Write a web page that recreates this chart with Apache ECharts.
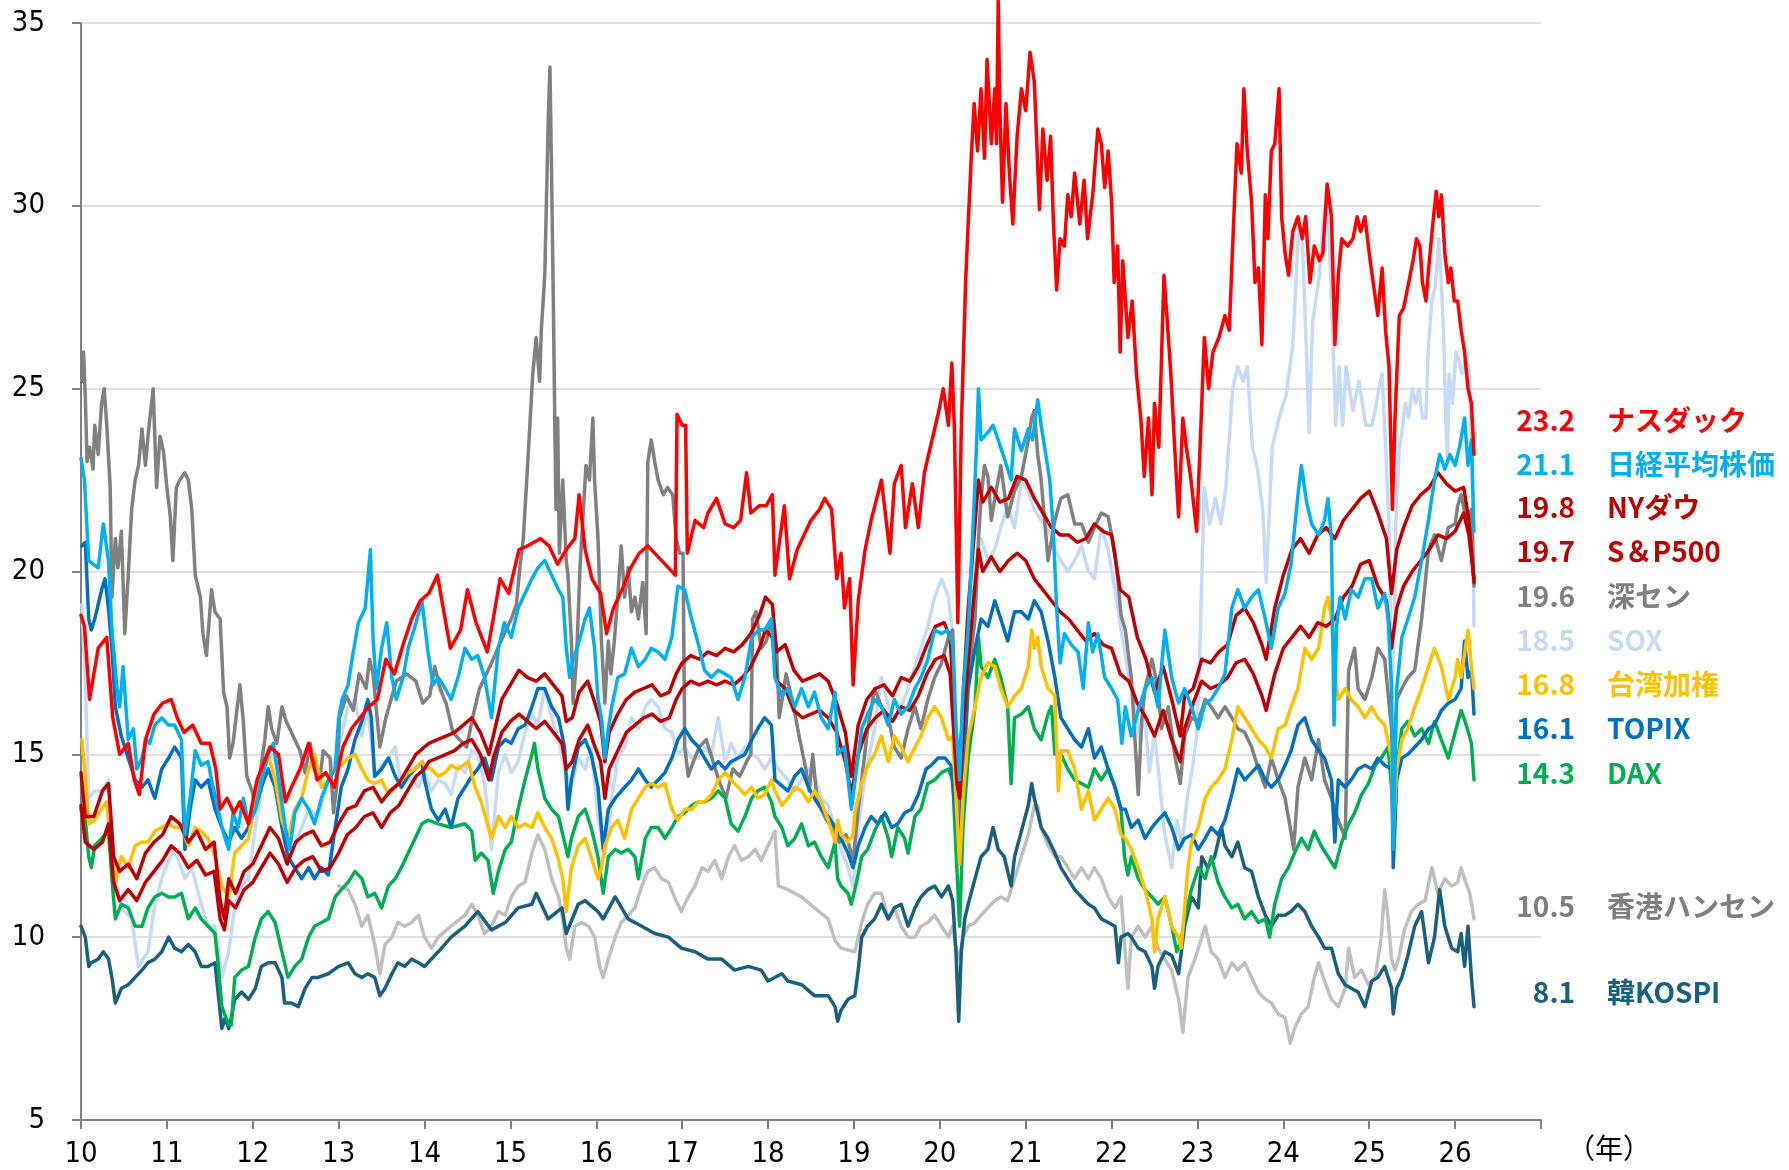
<!DOCTYPE html>
<html lang="ja">
<head>
<meta charset="UTF-8">
<title>予想PER推移</title>
<script src="https://cdn.jsdelivr.net/npm/echarts@6.0.0/dist/echarts.min.js"></script>
<style>
  html, body { margin: 0; padding: 0; background: #fff; }
  #chart { width: 1789px; height: 1170px; }
</style>
</head>
<body>
<div id="chart"></div>
<script>
// x = 年（2000年からの年数）, y = 倍率
var nasdaq = [[10.0,18.8],[10.04,18.5],[10.1,16.5],[10.2,17.9],[10.3,18.2],[10.37,16.0],[10.45,15.0],[10.55,15.3],[10.62,14.3],[10.68,13.9],[10.75,15.4],[10.85,16.1],[10.95,16.4],[11.05,16.5],[11.12,16.0],[11.2,15.6],[11.3,15.8],[11.4,15.3],[11.5,15.3],[11.57,14.6],[11.62,13.5],[11.7,13.8],[11.78,13.4],[11.85,13.7],[11.95,13.1],[12.05,14.3],[12.2,15.2],[12.3,15.0],[12.38,13.7],[12.45,14.1],[12.55,14.6],[12.65,15.3],[12.75,14.3],[12.85,14.5],[12.95,14.1],[13.05,15.2],[13.15,15.7],[13.25,16.0],[13.35,16.3],[13.45,16.5],[13.55,17.6],[13.65,17.2],[13.75,18.0],[13.85,18.7],[13.95,19.2],[14.05,19.4],[14.15,19.9],[14.3,17.9],[14.42,18.4],[14.5,19.5],[14.6,18.6],[14.73,17.8],[14.8,18.7],[14.88,19.8],[14.98,19.4],[15.1,20.6],[15.2,20.7],[15.35,20.9],[15.45,20.7],[15.55,20.2],[15.65,20.6],[15.75,20.9],[15.8,22.1],[15.87,20.6],[15.95,19.8],[16.05,19.4],[16.12,18.3],[16.2,19.0],[16.3,19.5],[16.4,20.1],[16.5,20.5],[16.6,20.7],[16.92,19.9],[16.94,24.3],[17.0,24.0],[17.04,24.0],[17.06,20.5],[17.15,21.4],[17.25,21.2],[17.3,21.6],[17.4,22.0],[17.5,21.3],[17.6,21.2],[17.68,21.4],[17.75,22.7],[17.8,21.6],[17.9,21.8],[17.98,21.8],[18.05,22.1],[18.08,19.9],[18.19,21.8],[18.25,19.8],[18.34,20.6],[18.4,20.9],[18.5,21.4],[18.6,21.7],[18.66,22.0],[18.74,21.7],[18.8,19.8],[18.85,20.5],[18.89,19.0],[18.95,19.8],[18.99,16.9],[19.05,19.2],[19.13,20.6],[19.2,21.4],[19.32,22.5],[19.42,20.5],[19.47,22.4],[19.55,22.9],[19.6,21.2],[19.68,22.4],[19.75,21.2],[19.82,22.7],[19.9,23.5],[19.98,24.3],[20.04,25.0],[20.1,24.0],[20.14,25.7],[20.17,23.9],[20.21,18.6],[20.25,23.9],[20.3,27.9],[20.33,29.5],[20.37,31.5],[20.4,32.8],[20.44,31.5],[20.48,33.2],[20.52,31.3],[20.55,34.0],[20.6,31.7],[20.64,33.2],[20.66,31.7],[20.68,35.6],[20.7,32.6],[20.73,30.1],[20.77,32.8],[20.81,30.9],[20.85,29.5],[20.9,31.9],[20.95,33.2],[21.0,32.6],[21.05,34.2],[21.1,33.4],[21.16,29.9],[21.2,32.1],[21.25,30.7],[21.29,31.9],[21.32,29.7],[21.36,27.7],[21.4,29.1],[21.45,28.9],[21.49,30.3],[21.53,29.7],[21.57,30.9],[21.63,29.5],[21.68,30.7],[21.72,29.1],[21.78,30.3],[21.84,32.1],[21.88,31.7],[21.92,30.5],[21.96,31.5],[22.0,30.1],[22.03,27.9],[22.07,28.9],[22.1,26.0],[22.13,28.5],[22.19,26.4],[22.24,27.4],[22.29,25.4],[22.34,24.2],[22.38,22.6],[22.43,24.2],[22.47,22.1],[22.5,24.6],[22.55,23.4],[22.61,28.1],[22.65,26.8],[22.69,25.4],[22.73,23.6],[22.78,21.5],[22.83,24.2],[22.87,23.4],[22.92,22.6],[22.99,21.1],[23.03,23.4],[23.08,26.4],[23.13,25.0],[23.18,26.0],[23.25,26.4],[23.32,27.0],[23.37,26.6],[23.42,29.5],[23.46,31.7],[23.51,30.9],[23.54,33.2],[23.58,31.5],[23.63,30.1],[23.67,27.9],[23.71,28.3],[23.75,26.2],[23.79,30.3],[23.82,29.1],[23.86,31.5],[23.9,31.7],[23.95,33.2],[23.98,29.7],[24.02,28.7],[24.06,28.1],[24.11,29.3],[24.17,29.7],[24.22,29.1],[24.26,29.7],[24.31,27.9],[24.36,28.9],[24.42,28.5],[24.46,28.7],[24.51,30.6],[24.56,29.7],[24.6,26.2],[24.64,28.1],[24.68,29.1],[24.75,28.9],[24.81,29.1],[24.86,29.7],[24.9,29.3],[24.95,29.7],[25.0,28.7],[25.04,28.0],[25.1,27.0],[25.15,28.3],[25.19,26.6],[25.23,25.6],[25.27,21.7],[25.3,24.2],[25.35,27.0],[25.4,27.2],[25.46,27.9],[25.51,28.5],[25.55,29.1],[25.59,28.9],[25.62,27.9],[25.66,27.4],[25.7,28.5],[25.74,29.5],[25.78,30.4],[25.81,29.7],[25.84,30.3],[25.88,28.7],[25.92,27.9],[25.95,28.3],[25.99,27.4],[26.03,27.4],[26.07,26.6],[26.11,26.0],[26.15,25.0],[26.19,24.6],[26.22,23.2]];

var nikkei = [[10.0,23.1],[10.04,22.5],[10.09,20.3],[10.14,20.2],[10.2,20.1],[10.26,21.3],[10.32,20.3],[10.36,18.4],[10.42,16.8],[10.45,16.3],[10.49,17.4],[10.55,15.4],[10.61,15.7],[10.65,14.6],[10.71,14.9],[10.76,15.4],[10.8,15.3],[10.86,15.8],[10.94,16.0],[11.02,15.8],[11.09,15.8],[11.17,15.4],[11.21,12.8],[11.27,13.8],[11.33,15.1],[11.4,14.7],[11.48,14.8],[11.52,14.3],[11.58,13.7],[11.64,13.0],[11.72,12.4],[11.77,13.4],[11.83,13.0],[11.89,13.8],[11.95,13.1],[12.03,13.5],[12.1,14.3],[12.18,15.0],[12.24,15.3],[12.3,14.3],[12.38,13.0],[12.43,12.4],[12.49,13.4],[12.57,13.8],[12.65,13.5],[12.72,13.1],[12.8,13.8],[12.88,14.3],[12.96,14.6],[13.0,16.0],[13.04,16.5],[13.11,16.9],[13.17,17.8],[13.23,18.6],[13.31,19.0],[13.37,20.6],[13.4,18.2],[13.44,16.8],[13.5,17.9],[13.56,18.6],[13.62,17.1],[13.67,16.5],[13.75,17.1],[13.81,17.9],[13.89,18.5],[13.97,19.2],[14.04,17.8],[14.1,16.9],[14.16,17.1],[14.24,16.8],[14.31,16.5],[14.39,17.1],[14.47,17.9],[14.55,17.6],[14.62,17.7],[14.7,17.1],[14.78,16.0],[14.86,17.9],[14.93,18.6],[15.01,18.2],[15.09,19.0],[15.17,19.4],[15.25,19.8],[15.32,20.1],[15.4,20.3],[15.48,19.9],[15.56,19.5],[15.61,19.3],[15.65,17.9],[15.69,17.1],[15.73,17.6],[15.79,18.0],[15.87,18.7],[15.92,19.0],[15.98,17.9],[16.02,16.5],[16.06,16.0],[16.1,14.9],[16.14,15.7],[16.18,16.3],[16.25,17.1],[16.33,17.2],[16.41,17.9],[16.49,17.4],[16.57,17.6],[16.64,17.9],[16.72,17.8],[16.8,17.6],[16.88,18.2],[16.95,19.6],[17.03,19.5],[17.11,18.7],[17.19,18.0],[17.26,17.3],[17.34,17.1],[17.42,17.3],[17.5,17.2],[17.57,17.1],[17.65,16.5],[17.73,17.1],[17.81,18.2],[17.89,18.4],[17.96,18.4],[18.04,18.7],[18.08,17.1],[18.16,16.6],[18.23,16.8],[18.31,16.3],[18.39,16.8],[18.47,16.3],[18.54,16.7],[18.62,16.0],[18.7,15.7],[18.78,16.7],[18.81,15.0],[18.89,15.2],[18.97,13.5],[19.03,14.6],[19.09,15.7],[19.16,16.1],[19.24,16.5],[19.32,16.3],[19.4,15.8],[19.47,16.5],[19.55,16.1],[19.63,16.3],[19.71,16.8],[19.78,17.1],[19.86,17.6],[19.94,18.4],[20.02,18.3],[20.09,18.4],[20.15,18.0],[20.19,15.7],[20.23,14.3],[20.27,16.7],[20.33,18.4],[20.39,21.4],[20.43,23.6],[20.45,25.0],[20.48,23.6],[20.56,23.8],[20.62,24.0],[20.68,23.6],[20.75,23.1],[20.83,22.5],[20.87,23.9],[20.95,23.3],[21.03,23.9],[21.08,23.6],[21.14,24.7],[21.18,24.0],[21.24,23.1],[21.28,22.5],[21.32,21.2],[21.36,19.0],[21.4,17.5],[21.45,18.3],[21.53,18.0],[21.61,17.8],[21.67,16.8],[21.73,18.6],[21.78,17.8],[21.84,18.3],[21.92,17.1],[22.0,16.8],[22.07,16.5],[22.12,15.3],[22.16,16.3],[22.23,15.5],[22.31,16.2],[22.39,16.8],[22.47,17.1],[22.54,16.3],[22.62,18.4],[22.7,17.1],[22.78,16.4],[22.85,16.8],[22.93,16.3],[23.01,15.7],[23.09,16.4],[23.16,16.5],[23.24,16.8],[23.32,17.2],[23.4,19.0],[23.47,19.5],[23.55,19.0],[23.63,19.3],[23.71,19.5],[23.79,18.7],[23.86,17.9],[23.94,19.0],[24.02,19.4],[24.09,20.2],[24.17,22.1],[24.21,22.9],[24.27,21.9],[24.33,21.3],[24.41,21.0],[24.48,21.4],[24.52,22.0],[24.56,20.9],[24.59,15.8],[24.62,18.5],[24.66,19.3],[24.72,18.7],[24.79,19.5],[24.87,19.3],[24.95,19.8],[25.03,19.8],[25.1,19.0],[25.18,19.4],[25.22,18.7],[25.26,16.8],[25.28,12.4],[25.32,16.8],[25.38,18.2],[25.45,18.7],[25.53,19.3],[25.61,20.3],[25.69,21.4],[25.76,22.5],[25.82,23.2],[25.88,22.8],[25.94,23.2],[26.0,22.9],[26.06,23.5],[26.11,24.2],[26.15,22.9],[26.19,23.6],[26.22,21.1]];

var sp500 = [[10.0,14.5],[10.05,13.3],[10.15,13.3],[10.25,14.0],[10.32,14.2],[10.38,12.2],[10.45,11.8],[10.55,12.0],[10.65,11.6],[10.75,12.3],[10.85,12.6],[10.95,12.8],[11.05,13.3],[11.15,13.1],[11.25,12.6],[11.35,12.9],[11.45,12.4],[11.55,12.6],[11.62,11.0],[11.67,10.5],[11.72,11.6],[11.8,11.2],[11.9,11.8],[12.0,12.0],[12.1,12.5],[12.2,13.0],[12.3,12.7],[12.4,12.0],[12.5,12.6],[12.6,12.8],[12.7,12.9],[12.8,12.5],[12.9,12.6],[13.0,13.1],[13.1,13.5],[13.2,13.6],[13.3,14.0],[13.4,14.1],[13.5,13.7],[13.6,14.0],[13.7,14.2],[13.8,14.6],[13.9,15.0],[14.0,15.2],[14.05,15.3],[14.15,15.4],[14.25,15.5],[14.35,15.6],[14.45,15.8],[14.55,16.0],[14.65,15.6],[14.75,15.0],[14.8,15.5],[14.9,16.5],[15.0,16.9],[15.1,17.3],[15.2,17.1],[15.3,17.0],[15.4,17.2],[15.5,16.9],[15.6,16.6],[15.65,15.9],[15.72,16.0],[15.8,16.7],[15.9,17.0],[15.97,16.5],[16.05,15.9],[16.1,14.8],[16.15,15.6],[16.25,16.1],[16.35,16.5],[16.45,16.7],[16.55,16.8],[16.65,16.9],[16.75,16.6],[16.85,16.7],[16.93,17.2],[17.0,17.5],[17.1,17.7],[17.2,17.6],[17.3,17.8],[17.4,17.7],[17.5,17.9],[17.6,17.8],[17.7,18.0],[17.8,18.3],[17.9,18.8],[17.97,19.3],[18.05,19.1],[18.1,17.8],[18.2,18.0],[18.3,17.3],[18.4,17.0],[18.5,17.1],[18.6,17.2],[18.7,17.0],[18.8,16.4],[18.9,15.6],[18.97,14.4],[19.05,15.8],[19.15,16.5],[19.25,16.8],[19.35,16.9],[19.45,16.6],[19.55,17.1],[19.65,17.0],[19.75,17.4],[19.85,18.0],[19.95,18.5],[20.05,18.6],[20.12,18.2],[20.2,15.0],[20.23,14.4],[20.27,16.5],[20.33,19.0],[20.4,21.0],[20.45,22.5],[20.5,21.9],[20.6,22.3],[20.7,21.9],[20.8,22.0],[20.9,22.6],[21.0,22.5],[21.1,22.0],[21.2,21.6],[21.3,21.2],[21.4,21.0],[21.5,21.0],[21.6,20.8],[21.7,20.9],[21.8,21.3],[21.9,21.1],[22.0,21.0],[22.1,19.5],[22.2,19.3],[22.3,18.2],[22.4,17.6],[22.5,16.7],[22.6,17.4],[22.7,16.5],[22.8,15.5],[22.85,16.6],[22.95,16.8],[23.05,17.6],[23.15,17.5],[23.25,17.8],[23.35,18.0],[23.45,18.8],[23.55,19.0],[23.65,18.6],[23.75,18.0],[23.8,17.6],[23.9,19.0],[24.0,19.9],[24.1,20.6],[24.2,20.9],[24.3,20.5],[24.4,21.0],[24.5,21.2],[24.6,20.9],[24.7,21.4],[24.8,21.7],[24.9,22.0],[25.0,22.2],[25.1,21.6],[25.2,20.9],[25.26,19.4],[25.32,20.6],[25.4,21.2],[25.5,21.8],[25.6,22.1],[25.7,22.3],[25.8,22.7],[25.9,22.4],[26.0,22.2],[26.1,22.3],[26.16,21.4],[26.22,19.7]];

var dow = [[10.0,13.6],[10.05,12.6],[10.15,12.4],[10.25,12.6],[10.32,13.1],[10.38,11.5],[10.45,11.0],[10.55,11.3],[10.65,11.0],[10.75,11.5],[10.85,11.8],[10.95,12.1],[11.05,12.5],[11.15,12.3],[11.25,11.9],[11.35,12.1],[11.45,11.7],[11.55,11.8],[11.62,10.5],[11.67,10.2],[11.72,11.0],[11.8,10.8],[11.9,11.3],[12.0,11.5],[12.1,11.9],[12.2,12.3],[12.3,12.0],[12.4,11.5],[12.5,11.9],[12.6,12.1],[12.7,12.2],[12.8,11.8],[12.9,11.9],[13.0,12.3],[13.1,12.8],[13.2,13.0],[13.3,13.3],[13.4,13.4],[13.5,13.0],[13.6,13.4],[13.7,13.6],[13.8,14.0],[13.9,14.4],[14.0,14.6],[14.05,14.8],[14.15,14.9],[14.25,15.0],[14.35,15.1],[14.45,15.3],[14.55,15.4],[14.65,15.0],[14.75,14.3],[14.8,14.9],[14.9,15.6],[15.0,15.9],[15.1,16.1],[15.2,15.9],[15.3,15.7],[15.4,15.9],[15.5,15.6],[15.6,15.3],[15.65,14.6],[15.72,14.8],[15.8,15.4],[15.9,15.8],[15.97,15.3],[16.05,14.8],[16.1,13.8],[16.15,14.6],[16.25,15.1],[16.35,15.6],[16.45,15.8],[16.55,16.0],[16.65,16.1],[16.75,15.9],[16.85,16.0],[16.93,16.5],[17.0,16.8],[17.1,17.0],[17.2,16.9],[17.3,17.0],[17.4,16.9],[17.5,17.0],[17.6,16.9],[17.7,17.1],[17.8,17.4],[17.9,17.9],[17.97,18.4],[18.05,18.2],[18.1,17.0],[18.2,16.8],[18.3,16.2],[18.4,16.0],[18.5,16.1],[18.6,16.2],[18.7,16.0],[18.8,15.6],[18.9,14.8],[18.97,13.9],[19.05,15.0],[19.15,15.7],[19.25,16.0],[19.35,16.2],[19.45,15.9],[19.55,16.3],[19.65,16.2],[19.75,16.6],[19.85,17.2],[19.95,17.6],[20.05,17.7],[20.12,17.2],[20.2,14.2],[20.23,13.8],[20.27,15.6],[20.33,17.5],[20.4,19.4],[20.45,20.6],[20.5,20.0],[20.6,20.4],[20.7,20.0],[20.8,20.3],[20.9,20.5],[21.0,20.3],[21.1,19.8],[21.2,19.5],[21.3,19.2],[21.4,18.9],[21.5,18.7],[21.6,18.4],[21.7,18.1],[21.8,18.3],[21.9,18.0],[22.0,17.9],[22.1,17.2],[22.2,17.0],[22.3,16.4],[22.4,16.0],[22.5,15.5],[22.6,16.2],[22.7,15.4],[22.8,14.8],[22.85,15.7],[22.95,16.4],[23.05,17.0],[23.15,16.8],[23.25,16.9],[23.35,17.1],[23.45,17.5],[23.55,17.6],[23.65,17.2],[23.75,16.6],[23.8,16.2],[23.9,17.2],[24.0,17.9],[24.1,18.2],[24.2,18.5],[24.3,18.2],[24.4,18.6],[24.5,18.5],[24.6,18.7],[24.7,19.3],[24.8,19.6],[24.9,20.2],[25.0,20.3],[25.1,19.6],[25.2,19.2],[25.26,17.9],[25.32,19.0],[25.4,19.6],[25.5,20.0],[25.6,20.3],[25.7,20.6],[25.8,21.0],[25.9,20.9],[26.0,21.1],[26.1,21.6],[26.16,21.0],[26.22,19.8]];

var shenzhen = [[10.01,25.2],[10.03,26.0],[10.05,24.8],[10.07,23.0],[10.1,23.4],[10.14,22.8],[10.16,24.0],[10.2,23.2],[10.24,24.6],[10.27,25.0],[10.3,24.0],[10.34,22.3],[10.36,19.3],[10.4,20.9],[10.43,20.1],[10.47,21.1],[10.51,18.3],[10.55,19.9],[10.59,21.7],[10.63,22.5],[10.67,22.9],[10.71,23.9],[10.75,22.9],[10.78,23.7],[10.84,25.0],[10.88,22.3],[10.92,23.7],[10.96,23.3],[11.0,22.3],[11.04,21.5],[11.07,20.3],[11.11,22.3],[11.15,22.5],[11.21,22.7],[11.25,22.5],[11.29,21.7],[11.33,19.9],[11.39,19.3],[11.42,18.3],[11.46,17.7],[11.52,19.5],[11.56,18.9],[11.62,18.7],[11.66,16.7],[11.7,16.3],[11.73,14.9],[11.77,15.3],[11.81,16.1],[11.85,16.9],[11.89,15.9],[11.93,14.4],[11.99,14.0],[12.03,13.6],[12.08,14.4],[12.14,15.4],[12.18,16.3],[12.22,15.7],[12.28,15.3],[12.34,16.3],[12.39,15.9],[12.47,15.5],[12.55,15.1],[12.61,14.5],[12.67,15.3],[12.7,14.7],[12.78,14.3],[12.82,15.1],[12.9,14.9],[12.94,13.4],[12.98,14.2],[13.01,16.0],[13.09,16.6],[13.17,16.2],[13.24,17.2],[13.32,16.8],[13.36,17.6],[13.4,17.2],[13.48,15.2],[13.55,16.0],[13.67,17.0],[13.79,17.2],[13.9,17.0],[13.98,16.4],[14.06,16.6],[14.12,17.4],[14.18,16.8],[14.25,16.4],[14.33,15.6],[14.41,15.4],[14.49,15.2],[14.56,16.0],[14.64,16.8],[14.72,17.2],[14.8,17.6],[14.87,18.0],[14.95,18.4],[15.01,18.7],[15.07,19.1],[15.11,20.1],[15.15,20.9],[15.2,22.9],[15.26,25.4],[15.3,26.4],[15.34,25.2],[15.36,26.6],[15.4,28.1],[15.44,32.3],[15.46,33.8],[15.48,30.8],[15.5,27.3],[15.53,21.7],[15.55,24.2],[15.57,20.5],[15.61,22.5],[15.65,20.3],[15.67,19.9],[15.71,18.1],[15.73,16.4],[15.77,17.6],[15.81,20.1],[15.84,21.3],[15.88,22.9],[15.92,22.5],[15.96,24.2],[15.98,22.5],[16.02,20.9],[16.06,18.1],[16.1,16.4],[16.14,18.1],[16.17,17.2],[16.21,18.1],[16.25,19.3],[16.29,20.7],[16.33,19.3],[16.37,20.1],[16.41,18.9],[16.45,19.3],[16.49,18.7],[16.54,19.7],[16.58,18.3],[16.6,23.0],[16.64,23.6],[16.68,23.0],[16.72,22.5],[16.78,22.1],[16.83,22.3],[16.89,22.1],[16.93,20.9],[16.97,20.5],[17.01,20.5],[17.03,15.2],[17.07,14.4],[17.13,14.8],[17.2,15.2],[17.28,15.4],[17.36,14.8],[17.44,14.2],[17.51,13.8],[17.59,14.6],[17.67,14.4],[17.75,14.8],[17.8,15.0],[17.82,18.7],[17.86,18.9],[17.92,17.9],[17.98,18.1],[18.04,18.7],[18.1,17.9],[18.13,16.0],[18.21,17.2],[18.29,16.4],[18.37,15.4],[18.44,14.6],[18.48,14.0],[18.52,15.0],[18.56,14.0],[18.6,13.6],[18.68,13.2],[18.76,13.0],[18.83,12.6],[18.91,12.8],[18.99,12.1],[19.05,13.5],[19.09,14.3],[19.16,15.7],[19.24,16.8],[19.32,16.3],[19.4,16.0],[19.47,15.2],[19.55,14.9],[19.63,15.7],[19.71,16.3],[19.78,15.7],[19.86,16.5],[19.94,17.1],[20.02,17.5],[20.1,18.2],[20.15,18.4],[20.19,14.3],[20.21,12.3],[20.25,15.4],[20.33,17.1],[20.41,18.7],[20.45,20.9],[20.48,22.0],[20.52,22.9],[20.56,22.6],[20.6,21.4],[20.64,22.0],[20.71,22.9],[20.79,21.5],[20.87,22.2],[20.95,22.6],[21.03,23.6],[21.07,24.2],[21.1,24.4],[21.14,23.2],[21.18,22.5],[21.22,21.4],[21.26,20.3],[21.34,21.4],[21.41,22.0],[21.49,22.1],[21.57,21.3],[21.65,21.3],[21.73,20.8],[21.8,21.2],[21.88,21.6],[21.96,21.5],[22.04,20.5],[22.08,19.6],[22.11,18.8],[22.16,18.4],[22.23,17.1],[22.31,13.9],[22.35,15.9],[22.39,16.8],[22.47,17.6],[22.54,16.8],[22.58,15.7],[22.66,16.3],[22.74,14.9],[22.8,14.2],[22.85,15.5],[22.93,16.0],[23.01,15.9],[23.09,16.5],[23.16,16.3],[23.24,16.0],[23.32,16.3],[23.4,16.0],[23.47,15.7],[23.55,15.6],[23.63,15.2],[23.71,14.6],[23.79,14.1],[23.86,14.9],[23.94,14.3],[24.02,13.8],[24.08,13.0],[24.12,12.4],[24.17,14.1],[24.25,14.9],[24.33,14.3],[24.41,15.4],[24.48,14.3],[24.56,13.8],[24.64,13.2],[24.72,12.7],[24.76,17.3],[24.83,17.9],[24.87,16.8],[24.95,16.5],[25.03,17.1],[25.1,17.9],[25.18,17.6],[25.26,15.7],[25.28,14.6],[25.32,16.5],[25.38,16.8],[25.45,17.1],[25.53,17.3],[25.61,18.7],[25.69,20.6],[25.76,21.0],[25.84,20.3],[25.92,21.2],[26.0,21.3],[26.03,21.8],[26.07,22.1],[26.13,21.4],[26.19,21.7],[26.22,19.6]];

var sox = [[10.01,19.1],[10.05,17.0],[10.09,13.8],[10.16,14.0],[10.24,14.0],[10.32,14.3],[10.4,11.6],[10.47,10.8],[10.59,10.5],[10.67,9.2],[10.78,9.6],[10.86,10.9],[10.94,11.6],[11.02,12.1],[11.09,12.4],[11.21,11.6],[11.29,11.9],[11.4,10.9],[11.48,10.3],[11.56,10.3],[11.64,8.9],[11.72,9.6],[11.79,10.8],[11.87,11.4],[11.95,11.6],[12.03,13.0],[12.14,14.6],[12.22,15.0],[12.3,14.6],[12.37,13.0],[12.45,12.3],[12.57,13.0],[12.65,13.5],[12.76,13.3],[12.88,14.3],[13.0,15.2],[13.11,16.3],[13.19,16.5],[13.27,15.5],[13.34,16.3],[13.42,14.4],[13.5,14.7],[13.58,14.9],[13.66,15.2],[13.73,14.1],[13.81,14.4],[13.93,14.1],[14.0,14.5],[14.08,14.0],[14.16,14.3],[14.24,14.2],[14.31,13.9],[14.39,14.7],[14.47,14.5],[14.55,15.1],[14.62,15.0],[14.7,14.2],[14.78,12.4],[14.86,14.5],[14.94,15.0],[15.01,14.5],[15.09,14.8],[15.17,15.6],[15.25,16.1],[15.32,15.8],[15.4,16.8],[15.48,16.0],[15.56,15.4],[15.63,14.6],[15.71,14.1],[15.79,14.9],[15.87,14.6],[15.94,15.2],[16.02,13.3],[16.1,12.2],[16.18,13.8],[16.25,14.9],[16.33,15.2],[16.41,16.0],[16.49,15.7],[16.57,16.3],[16.64,16.5],[16.72,16.3],[16.8,15.7],[16.88,15.6],[16.95,15.0],[17.03,15.2],[17.11,14.9],[17.19,14.9],[17.26,15.2],[17.34,15.0],[17.42,16.0],[17.5,14.8],[17.57,15.3],[17.65,14.9],[17.73,15.2],[17.81,15.0],[17.88,14.9],[17.96,14.6],[18.04,14.9],[18.12,14.6],[18.23,14.3],[18.31,14.0],[18.39,14.3],[18.47,14.6],[18.54,14.4],[18.62,13.8],[18.7,13.6],[18.78,13.0],[18.85,12.4],[18.93,11.9],[18.99,11.4],[19.05,13.0],[19.13,14.4],[19.24,15.7],[19.32,17.1],[19.4,16.3],[19.47,16.0],[19.55,16.3],[19.63,16.8],[19.71,17.4],[19.78,17.9],[19.86,18.5],[19.94,19.3],[20.02,19.8],[20.1,19.3],[20.15,18.2],[20.19,15.7],[20.23,14.3],[20.27,16.8],[20.33,18.7],[20.41,20.3],[20.48,20.9],[20.56,20.3],[20.64,20.6],[20.71,21.2],[20.79,21.8],[20.87,21.2],[20.95,22.5],[21.03,22.2],[21.1,21.7],[21.18,21.4],[21.26,21.2],[21.34,20.6],[21.41,20.3],[21.49,20.0],[21.57,20.3],[21.65,20.7],[21.73,20.0],[21.8,19.8],[21.88,21.2],[21.96,20.6],[22.04,19.5],[22.11,18.4],[22.19,17.3],[22.27,16.4],[22.33,15.3],[22.38,16.2],[22.44,14.5],[22.5,15.6],[22.56,14.2],[22.62,12.8],[22.7,11.9],[22.76,13.2],[22.82,12.5],[22.88,13.8],[22.94,14.6],[22.99,15.5],[23.02,17.2],[23.08,22.3],[23.14,21.3],[23.21,22.0],[23.27,21.3],[23.33,22.3],[23.41,25.0],[23.47,25.6],[23.53,25.2],[23.58,25.6],[23.64,23.4],[23.7,22.8],[23.76,21.7],[23.8,19.7],[23.87,23.4],[23.95,24.2],[24.03,24.8],[24.11,26.2],[24.18,29.5],[24.22,29.1],[24.26,26.6],[24.3,23.8],[24.34,26.8],[24.42,28.1],[24.46,29.5],[24.5,30.1],[24.53,29.3],[24.57,26.8],[24.61,24.0],[24.65,25.6],[24.69,24.0],[24.73,25.6],[24.81,24.4],[24.88,25.2],[24.96,24.0],[25.03,24.0],[25.07,24.4],[25.11,25.0],[25.15,25.4],[25.19,23.4],[25.23,21.3],[25.26,16.5],[25.29,18.4],[25.31,21.3],[25.35,23.4],[25.38,23.8],[25.42,24.6],[25.46,24.2],[25.5,25.0],[25.54,24.6],[25.58,25.0],[25.62,24.2],[25.66,24.2],[25.69,26.2],[25.73,27.4],[25.77,27.8],[25.81,29.1],[25.85,27.4],[25.87,26.2],[25.89,24.2],[25.91,23.0],[25.93,25.4],[25.97,24.6],[26.01,26.0],[26.04,25.8],[26.08,25.4],[26.12,25.8],[26.16,25.6],[26.18,24.2],[26.2,23.0],[26.22,18.5]];

var taiwan = [[10.01,15.4],[10.05,14.4],[10.09,13.1],[10.16,13.2],[10.24,13.5],[10.3,13.7],[10.36,12.2],[10.4,11.5],[10.47,12.2],[10.55,11.9],[10.63,12.5],[10.71,12.6],[10.78,12.6],[10.86,12.9],[10.94,13.0],[11.02,13.1],[11.09,13.0],[11.17,13.0],[11.25,12.5],[11.33,13.0],[11.4,12.9],[11.48,12.7],[11.56,12.2],[11.64,11.4],[11.72,11.1],[11.79,12.3],[11.87,12.5],[11.95,12.7],[12.03,13.8],[12.1,14.3],[12.18,15.0],[12.26,14.3],[12.34,13.2],[12.41,12.7],[12.49,13.5],[12.57,13.8],[12.65,14.6],[12.72,15.0],[12.8,14.1],[12.88,14.3],[12.96,14.6],[13.03,14.7],[13.11,14.9],[13.19,15.0],[13.27,14.6],[13.34,14.3],[13.42,14.2],[13.5,14.3],[13.58,13.9],[13.66,14.1],[13.73,14.3],[13.81,14.5],[13.89,14.6],[13.97,14.8],[14.0,14.7],[14.08,14.6],[14.16,14.4],[14.24,14.5],[14.31,14.7],[14.39,14.6],[14.51,14.8],[14.59,14.1],[14.66,13.7],[14.78,12.7],[14.86,13.3],[14.94,13.0],[15.01,13.3],[15.09,13.0],[15.17,13.1],[15.25,13.0],[15.32,13.4],[15.4,13.0],[15.48,12.7],[15.55,12.2],[15.61,11.6],[15.65,10.7],[15.71,11.9],[15.79,12.5],[15.87,12.7],[15.94,12.2],[16.02,11.6],[16.06,11.9],[16.1,12.5],[16.18,13.0],[16.25,13.2],[16.33,12.7],[16.41,13.5],[16.49,13.8],[16.57,14.1],[16.64,14.2],[16.72,14.1],[16.8,14.2],[16.88,13.5],[16.95,13.2],[17.03,13.5],[17.11,13.5],[17.19,13.7],[17.26,13.7],[17.34,13.9],[17.42,14.3],[17.5,14.5],[17.57,14.3],[17.65,14.1],[17.73,13.9],[17.81,14.1],[17.88,13.8],[17.96,13.9],[18.04,14.3],[18.08,14.0],[18.16,13.6],[18.23,13.8],[18.31,14.1],[18.39,14.0],[18.47,13.7],[18.54,14.0],[18.62,13.7],[18.7,13.2],[18.78,12.6],[18.81,13.2],[18.85,12.8],[18.93,12.6],[18.99,12.8],[19.01,13.4],[19.09,14.2],[19.16,14.7],[19.24,15.0],[19.32,15.5],[19.4,14.8],[19.47,15.5],[19.55,15.2],[19.63,14.8],[19.71,15.2],[19.78,15.5],[19.86,16.0],[19.94,16.3],[20.02,16.0],[20.1,15.4],[20.15,15.5],[20.19,13.7],[20.23,12.0],[20.27,13.8],[20.33,15.5],[20.41,16.3],[20.48,17.1],[20.56,17.5],[20.64,17.4],[20.71,16.8],[20.79,16.3],[20.87,16.6],[20.95,16.8],[21.03,17.4],[21.07,18.4],[21.1,17.9],[21.14,18.2],[21.18,17.4],[21.22,17.1],[21.26,16.8],[21.34,16.6],[21.38,14.0],[21.41,15.1],[21.49,15.1],[21.57,14.6],[21.65,13.5],[21.73,14.0],[21.8,13.2],[21.88,13.5],[21.96,13.8],[22.04,13.5],[22.11,12.8],[22.16,12.7],[22.23,12.4],[22.31,11.9],[22.39,11.3],[22.47,10.5],[22.5,9.6],[22.54,10.5],[22.62,11.1],[22.7,10.3],[22.78,10.0],[22.81,9.7],[22.85,10.8],[22.89,11.9],[22.93,12.6],[23.01,13.0],[23.09,13.8],[23.16,14.1],[23.24,14.3],[23.32,14.6],[23.4,15.4],[23.47,16.3],[23.55,16.0],[23.63,15.7],[23.71,15.4],[23.79,15.2],[23.86,14.9],[23.94,15.7],[24.02,15.8],[24.09,16.3],[24.17,16.8],[24.25,17.9],[24.33,17.6],[24.41,17.9],[24.48,19.0],[24.52,19.3],[24.56,18.7],[24.6,17.1],[24.64,16.5],[24.72,16.8],[24.79,16.5],[24.87,16.3],[24.95,16.0],[25.03,16.3],[25.1,16.0],[25.18,15.8],[25.26,14.9],[25.28,12.9],[25.32,14.6],[25.38,15.4],[25.45,15.7],[25.53,16.3],[25.61,16.8],[25.69,17.4],[25.76,17.9],[25.84,17.4],[25.92,16.5],[26.0,17.1],[26.03,17.6],[26.07,17.1],[26.15,18.4],[26.19,17.4],[26.22,16.8]];

var topix = [[10.01,20.7],[10.05,20.8],[10.09,18.7],[10.12,18.4],[10.16,18.7],[10.24,19.5],[10.28,19.8],[10.32,19.0],[10.36,17.9],[10.4,16.3],[10.47,15.5],[10.55,14.9],[10.63,14.3],[10.71,14.1],[10.78,14.3],[10.86,13.8],[10.94,14.6],[11.02,14.9],[11.09,15.2],[11.17,14.9],[11.21,12.4],[11.27,13.5],[11.33,14.3],[11.4,14.1],[11.48,14.3],[11.56,13.5],[11.64,13.0],[11.72,12.6],[11.79,13.0],[11.87,12.7],[11.95,13.0],[12.03,13.5],[12.1,14.1],[12.18,14.6],[12.26,14.1],[12.34,13.0],[12.41,12.2],[12.49,11.9],[12.57,11.6],[12.65,11.9],[12.72,11.6],[12.8,11.9],[12.88,11.7],[12.96,13.0],[13.03,14.1],[13.11,14.6],[13.19,15.4],[13.27,15.9],[13.34,16.5],[13.38,16.0],[13.42,14.4],[13.5,14.6],[13.58,14.9],[13.66,14.4],[13.73,14.1],[13.81,14.4],[13.89,14.6],[13.97,14.8],[14.0,14.3],[14.08,13.5],[14.16,13.2],[14.24,13.5],[14.31,13.0],[14.39,13.8],[14.47,14.1],[14.55,14.4],[14.62,14.6],[14.7,14.9],[14.78,14.3],[14.86,15.2],[14.94,15.4],[15.01,15.3],[15.09,15.7],[15.17,15.8],[15.25,16.3],[15.32,16.8],[15.4,16.8],[15.48,16.3],[15.56,16.0],[15.63,15.2],[15.67,13.5],[15.71,14.3],[15.79,15.2],[15.87,15.4],[15.94,15.0],[16.02,14.1],[16.08,12.4],[16.14,13.5],[16.22,13.8],[16.33,14.1],[16.41,14.3],[16.49,14.6],[16.57,14.3],[16.64,14.1],[16.72,14.3],[16.8,14.5],[16.88,14.9],[16.95,15.4],[17.03,15.7],[17.11,15.4],[17.19,15.2],[17.26,14.9],[17.34,14.6],[17.42,14.8],[17.5,14.6],[17.57,14.8],[17.65,14.9],[17.73,15.0],[17.81,15.4],[17.88,15.7],[17.96,16.0],[18.04,15.8],[18.08,14.3],[18.23,14.0],[18.31,14.4],[18.39,14.6],[18.47,14.1],[18.54,13.8],[18.62,13.5],[18.7,13.3],[18.78,13.0],[18.85,12.7],[18.93,12.3],[18.99,11.9],[19.05,12.5],[19.13,13.0],[19.2,13.3],[19.28,13.1],[19.36,13.4],[19.44,13.0],[19.51,13.1],[19.59,13.4],[19.67,13.5],[19.75,13.9],[19.84,14.6],[19.9,14.7],[19.98,14.9],[20.06,14.9],[20.13,14.7],[20.19,13.2],[20.23,12.4],[20.27,14.3],[20.33,16.8],[20.41,17.9],[20.48,18.7],[20.56,18.5],[20.64,19.2],[20.71,18.7],[20.79,18.1],[20.87,18.9],[20.95,18.9],[21.03,18.7],[21.1,19.2],[21.18,18.9],[21.26,18.1],[21.34,17.1],[21.41,16.0],[21.49,15.7],[21.57,15.4],[21.65,15.2],[21.73,15.7],[21.8,14.9],[21.88,15.2],[21.96,14.6],[22.04,14.1],[22.11,13.5],[22.16,13.5],[22.23,13.0],[22.31,13.2],[22.39,12.7],[22.47,13.0],[22.54,13.2],[22.62,13.4],[22.7,13.0],[22.78,12.4],[22.85,12.7],[22.93,12.8],[23.01,12.4],[23.09,12.7],[23.16,13.0],[23.24,12.8],[23.32,13.2],[23.4,13.9],[23.47,14.6],[23.55,14.3],[23.63,14.5],[23.71,14.7],[23.79,14.3],[23.86,14.1],[23.94,14.3],[24.02,14.7],[24.09,15.1],[24.17,15.8],[24.25,16.0],[24.33,15.4],[24.41,15.1],[24.48,14.9],[24.56,14.3],[24.6,12.6],[24.64,14.3],[24.72,14.1],[24.79,14.3],[24.87,14.6],[24.95,14.7],[25.03,14.6],[25.1,14.9],[25.18,14.7],[25.26,14.6],[25.28,11.9],[25.32,14.3],[25.38,14.9],[25.45,15.0],[25.53,15.2],[25.61,15.4],[25.69,15.7],[25.76,15.8],[25.84,16.2],[25.92,16.4],[26.0,16.5],[26.07,16.8],[26.11,18.1],[26.15,17.1],[26.19,17.3],[26.22,16.1]];

var dax = [[10.0,13.5],[10.05,13.2],[10.09,12.2],[10.12,11.9],[10.16,12.5],[10.24,12.7],[10.32,12.9],[10.36,11.6],[10.4,10.5],[10.47,10.9],[10.55,10.8],[10.63,10.3],[10.71,10.3],[10.78,10.8],[10.86,11.1],[10.94,11.2],[11.02,11.1],[11.09,11.1],[11.17,11.2],[11.25,10.5],[11.33,10.8],[11.4,10.5],[11.48,10.3],[11.56,10.1],[11.6,9.2],[11.64,8.1],[11.72,7.6],[11.75,7.6],[11.79,8.9],[11.87,9.1],[11.95,9.2],[12.03,10.0],[12.1,10.5],[12.18,10.7],[12.26,10.4],[12.34,9.6],[12.41,8.9],[12.49,9.2],[12.57,9.4],[12.65,10.0],[12.72,10.3],[12.8,10.4],[12.88,10.5],[12.96,11.1],[13.03,11.3],[13.11,11.5],[13.19,11.8],[13.27,11.6],[13.34,11.1],[13.42,11.2],[13.5,10.8],[13.58,11.4],[13.66,11.6],[13.73,11.9],[13.81,12.3],[13.89,12.7],[13.97,13.1],[14.04,13.2],[14.16,13.1],[14.31,13.0],[14.47,13.1],[14.55,12.9],[14.59,12.1],[14.66,12.3],[14.74,12.1],[14.8,11.2],[14.86,11.8],[14.94,12.4],[15.01,12.6],[15.09,13.5],[15.17,14.3],[15.25,15.0],[15.28,15.3],[15.32,14.6],[15.4,13.8],[15.48,13.5],[15.56,13.3],[15.63,12.6],[15.67,12.2],[15.71,12.7],[15.79,13.3],[15.87,13.5],[15.94,13.0],[16.02,12.2],[16.08,11.2],[16.14,12.2],[16.22,12.4],[16.29,12.3],[16.37,12.4],[16.45,12.2],[16.49,11.6],[16.57,12.7],[16.64,13.0],[16.72,13.0],[16.8,12.7],[16.88,13.0],[16.95,13.3],[17.03,13.4],[17.11,13.6],[17.19,13.7],[17.26,13.7],[17.34,13.8],[17.42,14.0],[17.5,13.8],[17.57,13.1],[17.65,12.9],[17.73,13.3],[17.81,13.8],[17.88,14.0],[17.96,14.1],[18.04,13.7],[18.08,13.3],[18.16,13.0],[18.23,12.5],[18.31,12.7],[18.39,13.1],[18.47,12.5],[18.54,12.6],[18.62,12.2],[18.7,11.9],[18.78,12.6],[18.81,11.6],[18.85,11.4],[18.93,11.2],[18.97,10.9],[19.03,11.5],[19.09,12.2],[19.16,12.4],[19.24,12.9],[19.32,13.3],[19.4,12.7],[19.44,12.2],[19.51,13.0],[19.59,12.7],[19.63,12.3],[19.71,13.3],[19.78,13.5],[19.86,14.2],[19.94,14.3],[20.02,14.5],[20.1,14.6],[20.15,14.3],[20.19,12.3],[20.23,10.3],[20.27,13.0],[20.33,14.9],[20.41,16.3],[20.45,18.2],[20.48,17.4],[20.56,17.1],[20.64,17.6],[20.71,17.1],[20.79,16.3],[20.83,14.2],[20.87,16.0],[20.95,16.1],[21.03,16.3],[21.1,15.7],[21.18,15.4],[21.26,16.1],[21.3,16.3],[21.34,15.0],[21.41,15.0],[21.49,14.6],[21.57,14.3],[21.65,14.2],[21.73,14.1],[21.8,14.6],[21.88,14.3],[21.96,14.6],[22.04,14.1],[22.11,13.5],[22.15,12.2],[22.19,11.7],[22.23,12.2],[22.31,11.6],[22.39,11.3],[22.47,11.1],[22.54,10.9],[22.62,11.1],[22.7,10.3],[22.76,9.6],[22.81,9.9],[22.85,10.5],[22.93,11.3],[23.01,11.9],[23.09,11.6],[23.16,12.2],[23.24,11.5],[23.32,11.1],[23.4,10.8],[23.47,10.9],[23.55,10.5],[23.63,10.7],[23.71,10.4],[23.79,10.5],[23.84,10.0],[23.9,10.9],[23.98,11.6],[24.06,11.9],[24.13,12.3],[24.21,12.7],[24.29,12.4],[24.36,12.9],[24.44,12.5],[24.52,12.2],[24.6,11.9],[24.68,12.6],[24.76,13.1],[24.83,13.4],[24.91,13.9],[24.99,14.2],[25.07,14.7],[25.14,14.9],[25.22,15.2],[25.28,13.5],[25.32,14.6],[25.38,15.7],[25.45,15.9],[25.53,15.5],[25.61,15.7],[25.69,15.3],[25.76,15.9],[25.84,15.4],[25.92,14.9],[26.0,15.6],[26.07,16.2],[26.13,15.8],[26.19,15.3],[26.22,14.3]];

var hangseng = [[13.0,11.4],[13.11,11.3],[13.19,10.9],[13.27,10.3],[13.34,10.6],[13.42,9.8],[13.48,9.0],[13.54,9.8],[13.62,10.0],[13.69,10.4],[13.77,10.3],[13.85,10.4],[13.93,10.6],[14.0,10.0],[14.08,9.7],[14.16,10.0],[14.31,10.3],[14.47,10.6],[14.55,10.9],[14.62,10.6],[14.7,10.1],[14.78,10.3],[14.86,10.7],[14.94,10.6],[15.01,11.1],[15.09,11.4],[15.17,11.5],[15.25,12.3],[15.32,12.8],[15.4,12.4],[15.48,11.6],[15.56,11.1],[15.61,10.5],[15.65,9.7],[15.69,9.4],[15.75,10.3],[15.83,10.4],[15.91,10.3],[15.98,10.0],[16.04,9.2],[16.08,8.9],[16.14,9.4],[16.22,10.0],[16.29,10.4],[16.37,10.6],[16.45,10.8],[16.53,11.4],[16.6,11.8],[16.68,11.9],[16.76,11.6],[16.84,11.5],[16.91,11.1],[16.99,10.7],[17.07,11.1],[17.15,11.4],[17.23,11.9],[17.3,11.8],[17.38,12.1],[17.46,11.6],[17.54,12.2],[17.61,12.5],[17.69,12.1],[17.77,12.2],[17.85,12.4],[17.92,12.1],[18.0,12.5],[18.08,12.9],[18.12,11.4],[18.23,11.3],[18.39,11.1],[18.54,10.8],[18.7,10.5],[18.78,9.9],[18.85,9.7],[19.01,9.6],[19.09,10.4],[19.16,10.9],[19.24,11.2],[19.32,11.2],[19.4,10.5],[19.47,10.8],[19.55,10.3],[19.63,10.0],[19.71,10.0],[19.78,10.3],[19.86,10.4],[19.94,10.6],[20.02,10.3],[20.1,10.0],[20.15,10.3],[20.19,9.7],[20.23,9.4],[20.27,10.0],[20.33,10.3],[20.41,10.4],[20.48,10.6],[20.56,10.8],[20.64,11.0],[20.71,11.1],[20.79,11.0],[20.87,11.6],[20.95,12.2],[21.03,12.8],[21.1,13.6],[21.14,13.6],[21.18,13.0],[21.26,12.5],[21.34,12.2],[21.41,12.2],[21.49,11.9],[21.57,11.6],[21.65,11.9],[21.73,11.6],[21.8,11.9],[21.88,11.6],[21.96,11.1],[22.04,10.8],[22.11,11.1],[22.19,8.6],[22.23,10.0],[22.31,10.3],[22.39,10.0],[22.47,10.3],[22.54,9.7],[22.62,9.4],[22.7,9.1],[22.78,8.3],[22.83,7.4],[22.89,8.9],[22.97,9.4],[23.05,10.0],[23.09,10.3],[23.16,9.6],[23.24,9.4],[23.32,8.9],[23.4,9.3],[23.47,9.1],[23.55,9.3],[23.63,8.9],[23.71,8.5],[23.79,8.3],[23.86,8.2],[23.94,7.9],[24.02,7.8],[24.08,7.1],[24.13,7.5],[24.21,7.9],[24.29,8.1],[24.36,8.9],[24.41,9.3],[24.48,8.8],[24.56,8.3],[24.64,8.1],[24.72,8.6],[24.76,9.7],[24.83,8.9],[24.91,9.1],[24.99,8.7],[25.07,8.9],[25.14,10.0],[25.18,11.3],[25.22,10.5],[25.26,9.4],[25.3,9.1],[25.34,9.4],[25.41,10.2],[25.49,10.7],[25.57,10.9],[25.65,11.0],[25.73,11.9],[25.8,11.2],[25.88,11.6],[25.96,11.4],[26.03,11.5],[26.07,11.9],[26.11,11.6],[26.17,11.2],[26.22,10.5]];

var kospi = [[10.0,10.3],[10.05,10.0],[10.09,9.2],[10.12,9.3],[10.2,9.4],[10.26,9.6],[10.32,9.4],[10.36,8.9],[10.4,8.2],[10.47,8.6],[10.55,8.7],[10.63,8.9],[10.71,9.1],[10.78,9.3],[10.86,9.4],[10.94,9.6],[11.02,10.0],[11.09,9.7],[11.17,9.6],[11.25,9.8],[11.33,9.6],[11.4,9.2],[11.48,9.2],[11.56,9.3],[11.6,8.4],[11.64,7.5],[11.68,7.8],[11.72,7.5],[11.75,7.8],[11.79,8.3],[11.87,8.5],[11.95,8.3],[12.03,8.6],[12.1,9.2],[12.18,9.3],[12.26,9.3],[12.34,8.9],[12.37,8.2],[12.45,8.2],[12.53,8.1],[12.61,8.6],[12.69,8.9],[12.76,8.9],[12.88,9.0],[13.0,9.2],[13.11,9.3],[13.19,9.0],[13.27,8.9],[13.34,9.0],[13.42,8.9],[13.48,8.4],[13.54,8.6],[13.62,9.0],[13.69,9.3],[13.77,9.2],[13.85,9.4],[13.93,9.3],[14.0,9.2],[14.16,9.6],[14.31,10.0],[14.47,10.3],[14.62,10.7],[14.78,10.2],[14.94,10.4],[15.09,10.8],[15.25,10.9],[15.3,11.2],[15.44,10.5],[15.6,10.8],[15.65,10.1],[15.79,10.9],[15.87,11.0],[16.02,10.7],[16.08,10.5],[16.22,11.1],[16.37,10.5],[16.53,10.3],[16.68,10.1],[16.84,10.0],[16.99,9.7],[17.15,9.6],[17.3,9.4],[17.46,9.4],[17.61,9.1],[17.77,9.2],[17.92,9.1],[18.0,8.8],[18.16,9.0],[18.23,8.8],[18.39,8.7],[18.54,8.4],[18.7,8.4],[18.78,8.1],[18.81,7.7],[18.85,8.0],[18.93,8.3],[19.01,8.4],[19.05,9.1],[19.09,10.0],[19.16,10.3],[19.24,10.5],[19.32,10.9],[19.4,10.5],[19.47,10.8],[19.55,10.9],[19.63,10.3],[19.71,10.8],[19.78,11.1],[19.86,11.3],[19.94,11.4],[20.02,11.1],[20.1,11.4],[20.15,11.0],[20.19,9.5],[20.22,7.7],[20.25,9.6],[20.29,10.5],[20.33,10.9],[20.41,11.6],[20.48,12.2],[20.56,12.4],[20.62,13.0],[20.68,12.4],[20.75,12.2],[20.83,11.4],[20.87,12.2],[20.95,12.9],[21.03,13.6],[21.07,14.2],[21.1,13.8],[21.18,13.0],[21.26,12.7],[21.34,12.3],[21.41,11.9],[21.49,11.6],[21.57,11.3],[21.65,11.1],[21.73,10.9],[21.8,10.8],[21.88,10.5],[21.96,10.4],[22.04,10.3],[22.08,9.3],[22.11,10.0],[22.19,10.1],[22.23,10.0],[22.31,9.7],[22.39,9.6],[22.47,9.2],[22.5,8.6],[22.54,9.2],[22.62,9.6],[22.7,9.5],[22.78,9.0],[22.85,10.3],[22.93,11.1],[23.01,10.8],[23.05,12.2],[23.12,11.9],[23.2,12.2],[23.28,13.0],[23.32,12.5],[23.4,12.2],[23.47,12.6],[23.55,11.9],[23.63,11.8],[23.71,11.1],[23.79,10.6],[23.86,10.3],[23.94,10.6],[24.02,10.6],[24.09,10.7],[24.17,10.9],[24.25,10.7],[24.33,10.3],[24.41,10.0],[24.48,9.7],[24.56,9.7],[24.64,9.0],[24.72,8.7],[24.79,8.6],[24.87,8.5],[24.95,8.1],[25.03,8.8],[25.1,8.9],[25.18,9.2],[25.26,8.6],[25.28,7.9],[25.32,8.6],[25.38,8.9],[25.45,9.5],[25.53,10.3],[25.61,10.7],[25.69,9.3],[25.76,10.0],[25.82,11.3],[25.88,10.3],[25.96,9.7],[26.03,9.6],[26.07,10.1],[26.11,9.2],[26.15,10.3],[26.19,8.9],[26.22,8.1]];

// 描画順（後ろほど手前）
var seriesNames = ['香港ハンセン', 'SOX', '深セン', '韓KOSPI', 'DAX', 'TOPIX', '台湾加権', 'NYダウ', 'S＆P500', '日経平均株価', 'ナスダック'];
var seriesData = [hangseng, sox, shenzhen, kospi, dax, topix, taiwan, dow, sp500, nikkei, nasdaq];
var lineColors = ['#BFBFBF', '#C6D9F7', '#808080', '#17607F', '#00B050', '#0070C0', '#FFC000', '#C00000', '#C00000', '#00B0F0', '#FF0000'];

// 右側ラベル（上から）
var labelOrder = ['ナスダック', '日経平均株価', 'NYダウ', 'S＆P500', '深セン', 'SOX', '台湾加権', 'TOPIX', 'DAX', '香港ハンセン', '韓KOSPI'];
var labelColors = ['#FF0000', '#00B0F0', '#C00000', '#C00000', '#7F7F7F', '#C6D9F7', '#FFC000', '#0070C0', '#00B050', '#7F7F7F', '#17607F'];
var labelY = [420, 464, 507, 551, 596, 640, 684, 728, 773, 906, 992];

var axisFont = '"DejaVu Sans Condensed", "Liberation Sans Narrow", "Liberation Sans", sans-serif';
var labelFont = 'bold 28px "Noto Sans CJK JP", sans-serif';

var myChart = echarts.init(document.getElementById('chart'));

var series = [];
for (var i = 0; i < seriesNames.length; i++) {
    series.push({
        name: seriesNames[i],
        type: 'line',
        data: seriesData[i],
        symbol: 'none',
        smooth: false,
        clip: false,
        lineStyle: { color: lineColors[i], width: 3.5, join: 'round', cap: 'round' },
        emphasis: { disabled: true }
    });
}

var graphics = [];
for (var j = 0; j < labelOrder.length; j++) {
    var d = seriesData[seriesNames.indexOf(labelOrder[j])];
    var last = d[d.length - 1][1];
    graphics.push({
        type: 'text', x: 1575, y: labelY[j],
        style: { text: last.toFixed(1), fill: labelColors[j], font: labelFont,
                 textAlign: 'right', textVerticalAlign: 'middle', align: 'right', verticalAlign: 'middle' }
    });
    graphics.push({
        type: 'text', x: 1607, y: labelY[j],
        style: { text: labelOrder[j], fill: labelColors[j], font: labelFont,
                 textAlign: 'left', textVerticalAlign: 'middle', align: 'left', verticalAlign: 'middle' }
    });
}
graphics.push({
    type: 'text', x: 1609, y: 1148,
    style: { text: '（年）', fill: '#000', font: '28px "Noto Sans CJK JP", sans-serif',
             textAlign: 'center', textVerticalAlign: 'middle', align: 'center', verticalAlign: 'middle' }
});

myChart.setOption({
    animation: false,
    backgroundColor: '#fff',
    grid: { left: 81, right: 248, top: 23, bottom: 50, containLabel: false },
    xAxis: {
        type: 'value', min: 10, max: 27, interval: 1,
        axisLine: { show: true, lineStyle: { color: '#808080', width: 2 } },
        axisTick: { show: true, length: 9, lineStyle: { color: '#808080', width: 2 } },
        axisLabel: {
            formatter: function (v) { return v < 27 ? String(v) : ''; },
            color: '#000', fontSize: 29, fontFamily: axisFont, margin: 20
        },
        splitLine: { show: false }
    },
    yAxis: {
        type: 'value', min: 5, max: 35, interval: 5,
        axisLine: { show: true, lineStyle: { color: '#808080', width: 2 } },
        axisTick: { show: true, length: 9, lineStyle: { color: '#808080', width: 2 } },
        axisLabel: { color: '#000', fontSize: 29, fontFamily: axisFont, margin: 36 },
        splitLine: { show: true, lineStyle: { color: '#D9D9D9', width: 1.5 } }
    },
    series: series,
    graphic: graphics
});
</script>
</body>
</html>
